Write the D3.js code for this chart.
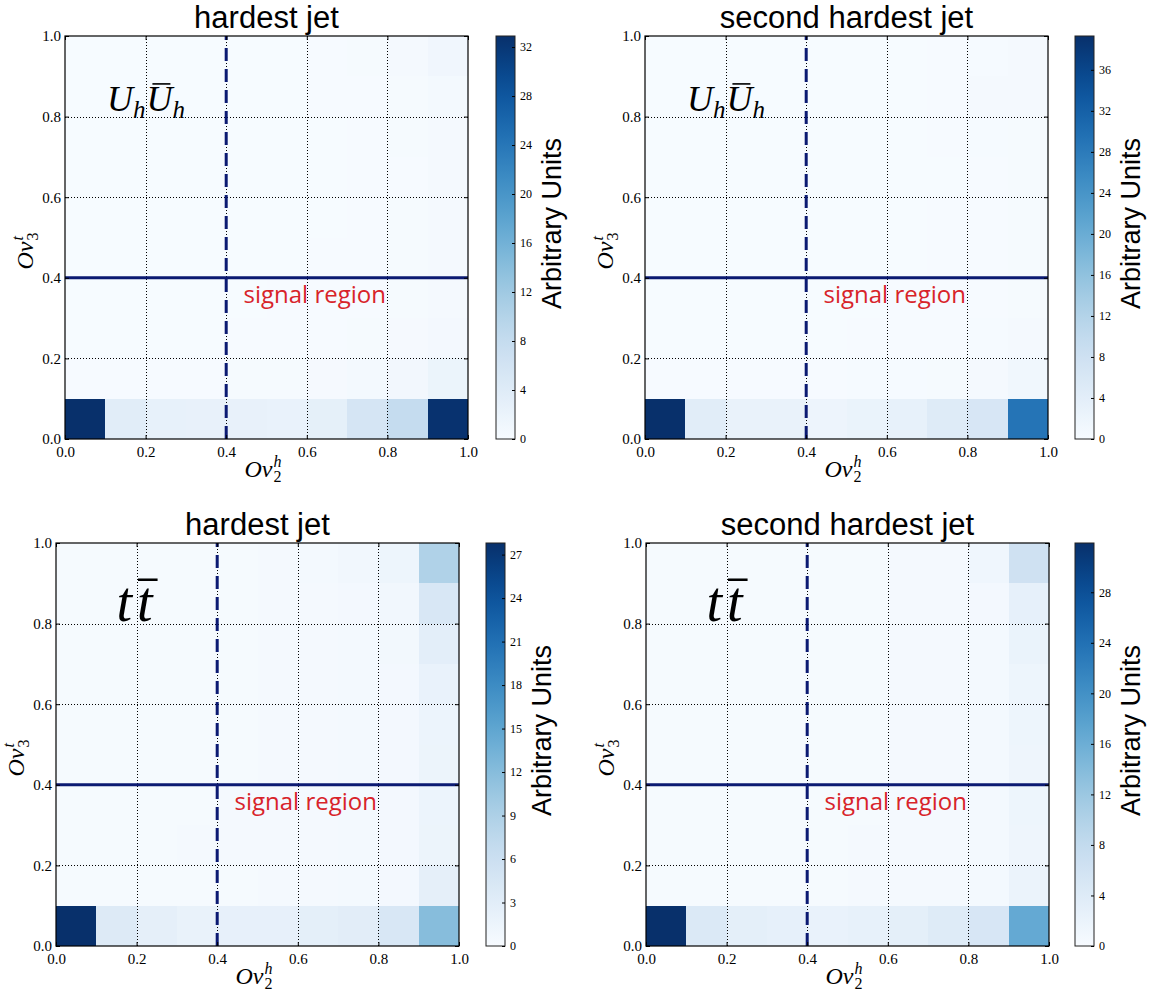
<!DOCTYPE html>
<html>
<head>
<meta charset="utf-8">
<script src="https://cdn.jsdelivr.net/npm/d3@7/dist/d3.min.js"></script>
<style>
  body { margin: 0; background: #fff; }
  svg { display: block; }
</style>
</head>
<body>
<div id="chart"></div>
<script>
// bin edges of both overlap variables (10 x 10 histogram)
const binEdges = [0, 0.1, 0.2, 0.3, 0.4, 0.5, 0.6, 0.7, 0.8, 0.9, 1.0]
const axisTicks = [0, 0.2, 0.4, 0.6, 0.8, 1.0]

const titles = ['hardest jet', 'second hardest jet', 'hardest jet', 'second hardest jet']
const processes = ['UU', 'UU', 'tt', 'tt']

// cell contents, row 0 = lowest Ov3 bin, column 0 = lowest Ov2 bin
const uuHardest = [
  [32.9, 3.7, 2.6, 2.5, 2.5, 2.3, 2.9, 5.6, 8.0, 32.6],
  [0.2, 0.2, 0.2, 0.2, 0.3, 0.3, 0.4, 0.6, 0.9, 1.9],
  [0.1, 0.1, 0.1, 0.1, 0.2, 0.2, 0.2, 0.3, 0.4, 0.7],
  [0.1, 0.1, 0.1, 0.1, 0.1, 0.2, 0.2, 0.2, 0.3, 0.5],
  [0.1, 0.1, 0.1, 0.1, 0.1, 0.1, 0.2, 0.2, 0.3, 0.5],
  [0.1, 0.1, 0.1, 0.1, 0.1, 0.1, 0.1, 0.2, 0.3, 0.5],
  [0.1, 0.1, 0.1, 0.1, 0.1, 0.1, 0.1, 0.2, 0.2, 0.5],
  [0.1, 0.1, 0.1, 0.1, 0.1, 0.1, 0.1, 0.2, 0.3, 0.5],
  [0.1, 0.1, 0.1, 0.1, 0.1, 0.1, 0.2, 0.2, 0.3, 0.6],
  [0.1, 0.1, 0.1, 0.1, 0.1, 0.1, 0.2, 0.3, 0.5, 1.2]
]
const uuSecond = [
  [39.3, 4.3, 2.8, 2.8, 2.0, 2.5, 3.2, 5.0, 6.3, 29.0],
  [0.2, 0.2, 0.2, 0.2, 0.2, 0.3, 0.3, 0.4, 0.6, 1.3],
  [0.1, 0.1, 0.1, 0.1, 0.1, 0.2, 0.2, 0.2, 0.3, 0.5],
  [0.1, 0.1, 0.1, 0.1, 0.1, 0.1, 0.2, 0.2, 0.2, 0.4],
  [0.1, 0.1, 0.1, 0.1, 0.1, 0.1, 0.1, 0.2, 0.2, 0.4],
  [0.1, 0.1, 0.1, 0.1, 0.1, 0.1, 0.1, 0.2, 0.2, 0.4],
  [0.1, 0.1, 0.1, 0.1, 0.1, 0.1, 0.1, 0.1, 0.2, 0.4],
  [0.1, 0.1, 0.1, 0.1, 0.1, 0.1, 0.1, 0.2, 0.3, 0.4],
  [0.1, 0.1, 0.1, 0.1, 0.1, 0.1, 0.1, 0.2, 0.6, 0.5],
  [0.1, 0.1, 0.1, 0.1, 0.1, 0.1, 0.1, 0.2, 0.3, 0.6]
]
const ttHardest = [
  [27.8, 3.7, 2.5, 2.0, 2.3, 2.3, 2.7, 3.0, 4.3, 12.0],
  [0.3, 0.3, 0.3, 0.3, 0.3, 0.4, 0.4, 0.5, 0.6, 2.5],
  [0.3, 0.3, 0.3, 0.4, 0.4, 0.4, 0.4, 0.5, 0.6, 1.6],
  [0.3, 0.3, 0.3, 0.3, 0.4, 0.4, 0.4, 0.5, 0.6, 1.5],
  [0.3, 0.3, 0.3, 0.3, 0.3, 0.4, 0.4, 0.5, 0.6, 1.6],
  [0.3, 0.3, 0.3, 0.3, 0.3, 0.4, 0.4, 0.5, 0.6, 1.5],
  [0.3, 0.3, 0.3, 0.3, 0.3, 0.4, 0.4, 0.5, 0.6, 1.9],
  [0.3, 0.3, 0.3, 0.3, 0.3, 0.4, 0.4, 0.5, 0.7, 2.8],
  [0.3, 0.3, 0.3, 0.3, 0.3, 0.4, 0.4, 0.6, 0.8, 4.3],
  [0.3, 0.3, 0.3, 0.3, 0.3, 0.4, 0.5, 0.8, 1.4, 8.8]
]
const ttSecond = [
  [31.9, 4.5, 3.0, 2.7, 2.2, 2.6, 3.0, 4.0, 5.2, 16.7],
  [0.3, 0.3, 0.3, 0.3, 0.3, 0.4, 0.4, 0.5, 0.6, 1.9],
  [0.3, 0.3, 0.3, 0.3, 0.3, 0.4, 0.4, 0.5, 0.6, 1.5],
  [0.3, 0.3, 0.3, 0.3, 0.3, 0.3, 0.4, 0.5, 0.6, 1.6],
  [0.3, 0.3, 0.3, 0.3, 0.3, 0.3, 0.4, 0.5, 0.6, 1.5],
  [0.3, 0.3, 0.3, 0.3, 0.3, 0.3, 0.4, 0.5, 0.6, 1.6],
  [0.3, 0.3, 0.3, 0.3, 0.3, 0.3, 0.4, 0.5, 0.6, 1.6],
  [0.3, 0.3, 0.3, 0.3, 0.3, 0.3, 0.4, 0.5, 0.6, 2.0],
  [0.3, 0.3, 0.3, 0.3, 0.3, 0.3, 0.4, 0.5, 0.7, 2.7],
  [0.3, 0.3, 0.3, 0.3, 0.3, 0.3, 0.4, 0.5, 1.2, 6.4]
]
const histograms = [uuHardest, uuSecond, ttHardest, ttSecond]

// colour bar ranges and ticks
const colorMax = [32.9, 39.3, 27.8, 31.9]
const colorTicks = [
  [0, 4, 8, 12, 16, 20, 24, 28, 32],
  [0, 4, 8, 12, 16, 20, 24, 28, 32, 36],
  [0, 3, 6, 9, 12, 15, 18, 21, 24, 27],
  [0, 4, 8, 12, 16, 20, 24, 28]
]

// signal region cuts
const cutOv2 = 0.4
const cutOv3 = 0.4

const W = 1151, H = 998
const svg = d3.select('#chart').append('svg').attr('width', W).attr('height', H)

const serif = '"Liberation Serif", "Times New Roman", serif'
const sans = '"Liberation Sans", Arial, sans-serif'
const navy = '#0b1a72'

// panel placement: plot origin and colour bar x
const layout = [
  { left: 65, top: 36, cbX: 496 },
  { left: 645, top: 36, cbX: 1075 },
  { left: 56, top: 543, cbX: 486 },
  { left: 646, top: 543, cbX: 1075 }
]
const size = 403
const cbW = 19

// append a run of text pieces one after the other
function mathText(g, x, y, pieces) {
  let cx = x
  pieces.forEach(p => {
    const t = g.append('text')
      .attr('x', cx)
      .attr('y', y + (p.dy || 0))
      .style('font-family', serif)
      .style('font-style', 'italic')
      .style('font-size', p.size + 'px')
      .text(p.t)
    const w = t.node().getComputedTextLength()
    if (p.bar) {
      g.append('line')
        .attr('x1', cx + p.bar[0]).attr('x2', cx + w + p.bar[1])
        .attr('y1', y - p.size * 0.74).attr('y2', y - p.size * 0.74)
        .attr('stroke', '#000').attr('stroke-width', Math.max(1.5, p.size * 0.045))
    }
    cx += w + (p.gap || 0)
  })
}

// "Ov" with stacked sub/superscript
function ovLabel(g, x, y, sub, sup) {
  g.append('text')
    .attr('x', x).attr('y', y)
    .attr('text-anchor', 'end')
    .style('font-family', serif).style('font-style', 'italic')
    .style('font-size', '24px')
    .text('Ov')
  g.append('text').attr('x', x + 1).attr('y', y + 5)
    .style('font-family', serif).style('font-size', '16px')
    .text(sub)
  g.append('text').attr('x', x + 1).attr('y', y - 10)
    .style('font-family', serif).style('font-style', 'italic').style('font-size', '16px')
    .text(sup)
}

function drawPanel(i) {
  const pos = layout[i]
  const data = histograms[i]
  const g = svg.append('g').attr('transform', `translate(${pos.left},${pos.top})`)

  const x = d3.scaleLinear().domain([0, 1]).range([0, size])
  const y = d3.scaleLinear().domain([0, 1]).range([size, 0])
  const color = d3.scaleSequential(d3.interpolateBlues).domain([0, colorMax[i]]).clamp(true)

  // histogram cells
  const cells = []
  data.forEach((row, r) => row.forEach((v, c) => cells.push({ r, c, v })))
  g.append('g').selectAll('rect')
    .data(cells)
    .enter()
    .append('rect')
    .attr('x', d => x(binEdges[d.c]))
    .attr('y', d => y(binEdges[d.r + 1]))
    .attr('width', d => x(binEdges[d.c + 1]) - x(binEdges[d.c]))
    .attr('height', d => y(binEdges[d.r]) - y(binEdges[d.r + 1]))
    .attr('fill', d => color(d.v))
    .attr('shape-rendering', 'crispEdges')

  // dotted grid
  const inner = axisTicks.slice(1, -1)
  g.append('g').selectAll('line').data(inner).enter().append('line')
    .attr('x1', d => Math.round(x(d)) + 0.5).attr('x2', d => Math.round(x(d)) + 0.5)
    .attr('y1', 0).attr('y2', size)
    .attr('stroke', '#000').attr('stroke-width', 1).attr('stroke-dasharray', '1,2')
  g.append('g').selectAll('line').data(inner).enter().append('line')
    .attr('y1', d => Math.round(y(d)) + 0.5).attr('y2', d => Math.round(y(d)) + 0.5)
    .attr('x1', 0).attr('x2', size)
    .attr('stroke', '#000').attr('stroke-width', 1).attr('stroke-dasharray', '1,2')

  // signal region cuts
  g.append('line')
    .attr('x1', x(0)).attr('x2', x(1))
    .attr('y1', y(cutOv3)).attr('y2', y(cutOv3))
    .attr('stroke', navy).attr('stroke-width', 3)
  g.append('line')
    .attr('x1', x(cutOv2)).attr('x2', x(cutOv2))
    .attr('y1', y(0)).attr('y2', y(1))
    .attr('stroke', navy).attr('stroke-width', 3)
    .attr('stroke-dasharray', '13,8')

  // axes with inward ticks
  const fmt = d3.format('.1f')
  const xAxis = g.append('g').attr('transform', `translate(0,${size})`)
    .call(d3.axisBottom(x).tickValues(axisTicks).tickSize(-4).tickPadding(5).tickFormat(fmt))
  g.append('g')
    .call(d3.axisLeft(y).tickValues(axisTicks).tickSize(-4).tickPadding(4).tickFormat(fmt))
  g.append('g').call(d3.axisTop(x).tickValues(axisTicks).tickSize(-4).tickFormat(''))
  g.append('g').attr('transform', `translate(${size},0)`)
    .call(d3.axisRight(y).tickValues(axisTicks).tickSize(-4).tickFormat(''))
  g.selectAll('.domain').remove()
  g.selectAll('.tick text').attr('font-family', serif).attr('font-size', 15).attr('fill', '#000')
  xAxis.selectAll('.tick text').attr('dy', '0.85em')

  g.append('rect')
    .attr('width', size).attr('height', size)
    .attr('fill', 'none').attr('stroke', '#000').attr('stroke-width', 1.2)

  // title
  g.append('text')
    .attr('x', size / 2).attr('y', -8)
    .attr('text-anchor', 'middle')
    .style('font-family', sans).style('font-size', '31px')
    .text(titles[i])

  // axis labels
  ovLabel(g, size / 2 + 6, size + 38, '2', 'h')
  const yl = g.append('g').attr('transform', `translate(-32,${size / 2 + 4}) rotate(-90)`)
  ovLabel(yl, 0, 0, '3', 't')

  // process label
  if (processes[i] === 'UU') {
    mathText(g, x(0.104), y(0.815), [
      { t: 'U', size: 36 },
      { t: 'h', size: 25, dy: 7, gap: 1 },
      { t: 'U', size: 36, bar: [6, -2] },
      { t: 'h', size: 25, dy: 7 }
    ])
  } else {
    mathText(g, x(0.15), y(0.806), [
      { t: 't', size: 56, gap: 5 },
      { t: 't', size: 56, bar: [1, 5] }
    ])
  }

  g.append('text')
    .attr('x', x(0.443)).attr('y', y(0.337))
    .style('font-family', '"Open Sans", sans-serif').style('font-size', '24px')
    .attr('fill', '#d8232a')
    .text('signal region')

  // colour bar
  const cb = svg.append('g').attr('transform', `translate(${pos.cbX},${pos.top})`)
  const cy = d3.scaleLinear().domain([0, colorMax[i]]).range([size, 0])
  const gradId = 'grad' + i
  const grad = svg.append('defs').append('linearGradient')
    .attr('id', gradId).attr('x1', 0).attr('x2', 0).attr('y1', 1).attr('y2', 0)
  d3.range(0, 1.001, 0.05).forEach(t => {
    grad.append('stop').attr('offset', t).attr('stop-color', d3.interpolateBlues(t))
  })
  cb.append('rect').attr('width', cbW).attr('height', size)
    .attr('fill', `url(#${gradId})`)
    .attr('stroke', '#222').attr('stroke-width', 1)
  const cbAxis = cb.append('g').attr('transform', `translate(${cbW},0)`)
    .call(d3.axisRight(cy).tickValues(colorTicks[i]).tickSize(-3).tickPadding(5))
  cbAxis.select('.domain').remove()
  cbAxis.selectAll('.tick text').attr('font-family', serif).attr('font-size', 12).attr('fill', '#000')

  cb.append('text')
    .attr('transform', `translate(${cbW + 46},${size / 2 - 14}) rotate(-90)`)
    .attr('text-anchor', 'middle')
    .style('font-family', sans).style('font-size', '27px')
    .text('Arbitrary Units')
}

d3.range(4).forEach(drawPanel)
</script>
</body>
</html>
